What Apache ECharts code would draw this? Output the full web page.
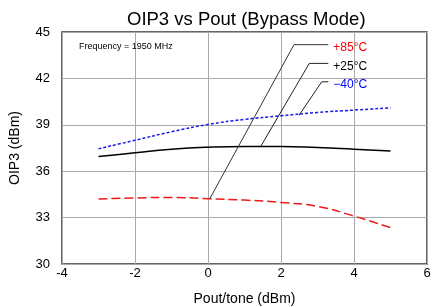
<!DOCTYPE html>
<html>
<head>
<meta charset="utf-8">
<script src="https://cdn.jsdelivr.net/npm/echarts@6/dist/echarts.min.js"></script>
<style>html,body{margin:0;padding:0;background:#fff}#c{width:440px;height:307px}</style>
</head>
<body>
<div id="c"></div>
<script>
var pout = [-3, -2, -1, 0, 1, 2, 3, 4, 5];
var oip3_m40 = [37.45, 38.0, 38.55, 39.02, 39.35, 39.58, 39.8, 39.95, 40.1];
var oip3_p25 = [36.95, 37.2, 37.42, 37.55, 37.6, 37.6, 37.53, 37.42, 37.3];
var oip3_p85 = [34.2, 34.27, 34.3, 34.22, 34.13, 33.98, 33.72, 33.1, 32.35];
var xTicks = [-4, -2, 0, 2, 4, 6];
var yTicks = [30, 33, 36, 39, 42, 45];
var lead85 = [[0.05, 34.22], [2.356, 44.18], [3.296, 44.18]];
var lead25 = [[1.452, 37.63], [2.775, 42.97], [3.296, 42.97]];
var lead40 = [[2.493, 39.61], [3.115, 41.78], [3.296, 41.78]];
var labels = ['+85°C', '+25°C', '\u221240°C'];

var FF = 'Liberation Sans, Arial, sans-serif';
function pairs(xs, ys) { return xs.map(function (x, i) { return [x, ys[i]]; }); }
function leader(d, txt, col, lc, lw) {
  return {
    type: 'line', data: d, showSymbol: false, symbol: 'none', silent: true,
    lineStyle: { color: lc, width: lw }, z: 3,
    endLabel: { show: true, formatter: txt, color: col, fontSize: 12, fontFamily: FF, distance: 5, offset: [0, 3] }
  };
}
var chart = echarts.init(document.getElementById('c'), null, { renderer: 'canvas' });
chart.setOption({
  animation: false,
  backgroundColor: '#fff',
  title: [
    { text: 'OIP3 vs Pout (Bypass Mode)', left: 122, top: 5, textStyle: { fontSize: 18.5, fontWeight: 'normal', color: '#000', fontFamily: FF } },
    { text: 'Frequency = 1950 MHz', left: 74, top: 37, textStyle: { fontSize: 9, fontWeight: 'normal', color: '#000', fontFamily: FF } }
  ],
  grid: { left: 62, right: 13, top: 32, bottom: 43, show: true, borderColor: '#333', borderWidth: 1.5, outerBoundsMode: 'none', containLabel: false },
  xAxis: {
    type: 'value', min: xTicks[0], max: xTicks[xTicks.length - 1], interval: xTicks[1] - xTicks[0],
    name: 'Pout/tone (dBm)', nameLocation: 'middle', nameGap: 28,
    nameTextStyle: { fontSize: 14, color: '#000', fontFamily: FF },
    axisLine: { show: false }, axisTick: { show: false },
    axisLabel: { fontSize: 13, color: '#000', margin: 3, fontFamily: FF },
    splitLine: { show: true, lineStyle: { color: '#aaa', width: 1 } }
  },
  yAxis: {
    type: 'value', min: yTicks[0], max: yTicks[yTicks.length - 1], interval: yTicks[1] - yTicks[0],
    name: 'OIP3 (dBm)', nameLocation: 'middle', nameGap: 40,
    nameTextStyle: { fontSize: 14, color: '#000', fontFamily: FF },
    axisLine: { show: false }, axisTick: { show: false },
    axisLabel: { fontSize: 13, color: '#000', margin: 12, fontFamily: FF },
    splitLine: { show: true, lineStyle: { color: '#aaa', width: 1 } }
  },
  series: [
    { type: 'line', data: pairs(pout, oip3_m40), smooth: true, showSymbol: false, symbol: 'none', lineStyle: { color: '#1a1aee', width: 1.5, type: [3, 2] } },
    { type: 'line', data: pairs(pout, oip3_p25), smooth: true, showSymbol: false, symbol: 'none', lineStyle: { color: '#000', width: 1.5 } },
    { type: 'line', data: pairs(pout, oip3_p85), smooth: true, showSymbol: false, symbol: 'none', lineStyle: { color: '#ee1a1a', width: 1.5, type: [9, 4] } },
    leader(lead85, labels[0], '#ff0000', '#333', 1),
    leader(lead25, labels[1], '#000', '#222', 1),
    leader(lead40, labels[2], '#0000ff', '#222', 1)
  ]
});
</script>
</body>
</html>
